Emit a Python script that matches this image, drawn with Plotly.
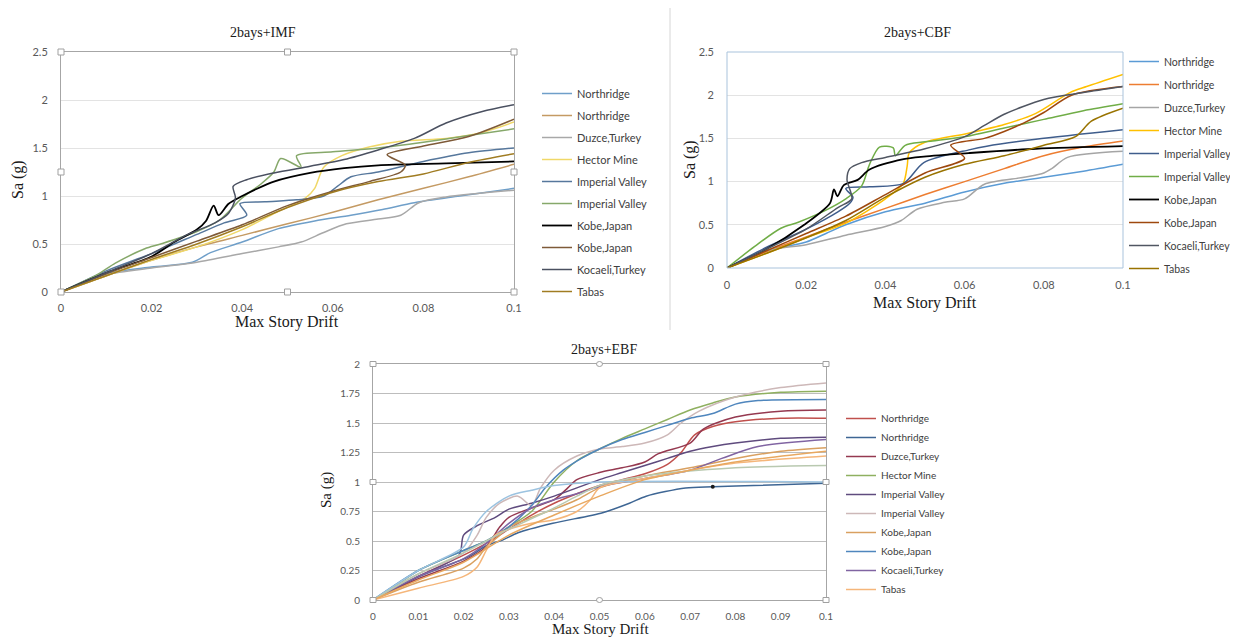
import plotly.graph_objects as go

# page body has an 8px margin, so the figure is placed at (8, 8) in the window
OFF = 8
W, H = 1260, 629

# ---------------- DATA ----------------
names = ["Northridge", "Northridge", "Duzce,Turkey", "Hector Mine", "Imperial Valley",
         "Imperial Valley", "Kobe,Japan", "Kobe,Japan", "Kocaeli,Turkey", "Tabas"]

# 2bays+IMF
imf_x = [
    [0, 0.01, 0.02, 0.029, 0.033, 0.04, 0.048, 0.056, 0.064, 0.071, 0.078, 0.088, 0.1],
    [0, 0.01, 0.02, 0.03, 0.04, 0.05, 0.06, 0.07, 0.08, 0.09, 0.1],
    [0, 0.01, 0.02, 0.03, 0.04, 0.048, 0.053, 0.058, 0.063, 0.07, 0.075, 0.079, 0.085, 0.1],
    [0, 0.01, 0.02, 0.03, 0.04, 0.048, 0.054, 0.056, 0.058, 0.062, 0.068, 0.075, 0.085, 0.092, 0.1],
    [0, 0.01, 0.02, 0.03, 0.036, 0.041, 0.0395, 0.045, 0.052, 0.058, 0.061, 0.064, 0.07, 0.08, 0.09, 0.1],
    [0, 0.008, 0.012, 0.0185, 0.022, 0.03, 0.035, 0.04, 0.044, 0.047, 0.0485, 0.053, 0.052, 0.06, 0.07, 0.08, 0.09, 0.1],
    [0, 0.01, 0.02, 0.025, 0.03, 0.032, 0.0337, 0.0348, 0.037, 0.04, 0.043, 0.047, 0.055, 0.0625, 0.07, 0.085, 0.1],
    [0, 0.01, 0.02, 0.03, 0.04, 0.05, 0.06, 0.068, 0.075, 0.076, 0.072, 0.08, 0.09, 0.1],
    [0, 0.01, 0.02, 0.028, 0.034, 0.037, 0.0385, 0.038, 0.041, 0.047, 0.055, 0.0625, 0.07, 0.078, 0.085, 0.093, 0.1],
    [0, 0.01, 0.02, 0.03, 0.04, 0.05, 0.06, 0.07, 0.08, 0.09, 0.1],
]
imf_y = [
    [0, 0.19, 0.26, 0.31, 0.41, 0.52, 0.66, 0.74, 0.80, 0.86, 0.93, 1.0, 1.08],
    [0, 0.17, 0.33, 0.47, 0.59, 0.71, 0.83, 0.96, 1.08, 1.2, 1.33],
    [0, 0.18, 0.25, 0.31, 0.4, 0.47, 0.52, 0.62, 0.71, 0.76, 0.8, 0.93, 0.99, 1.06],
    [0, 0.17, 0.33, 0.47, 0.65, 0.84, 0.98, 1.08, 1.3, 1.42, 1.51, 1.57, 1.6, 1.65, 1.77],
    [0, 0.22, 0.4, 0.6, 0.72, 0.8, 0.92, 0.94, 0.96, 1.0, 1.1, 1.2, 1.25, 1.36, 1.45, 1.5],
    [0, 0.18, 0.3, 0.45, 0.5, 0.63, 0.75, 0.98, 1.12, 1.25, 1.39, 1.3, 1.42, 1.46, 1.5, 1.56, 1.63, 1.7],
    [0, 0.2, 0.37, 0.52, 0.65, 0.74, 0.9, 0.8, 0.92, 1.0, 1.07, 1.15, 1.24, 1.29, 1.32, 1.34, 1.36],
    [0, 0.19, 0.36, 0.53, 0.7, 0.9, 1.05, 1.15, 1.25, 1.32, 1.43, 1.52, 1.62, 1.8],
    [0, 0.2, 0.4, 0.6, 0.72, 0.82, 0.98, 1.1, 1.17, 1.24, 1.31, 1.38, 1.48, 1.6, 1.76, 1.88, 1.95],
    [0, 0.17, 0.34, 0.5, 0.68, 0.88, 1.04, 1.15, 1.23, 1.35, 1.44],
]

# 2bays+CBF
cbf_x = [
    [0, 0.01, 0.02, 0.025, 0.03, 0.04, 0.05, 0.06, 0.07, 0.08, 0.09, 0.1],
    [0, 0.01, 0.02, 0.03, 0.04, 0.05, 0.06, 0.07, 0.08, 0.09, 0.1],
    [0, 0.01, 0.02, 0.03, 0.04, 0.044, 0.048, 0.055, 0.06, 0.065, 0.075, 0.08, 0.082, 0.086, 0.1],
    [0, 0.01, 0.02, 0.03, 0.04, 0.0445, 0.0455, 0.046, 0.0497, 0.061, 0.07, 0.078, 0.0866, 0.0908, 0.1],
    [0, 0.01, 0.02, 0.028, 0.031, 0.0318, 0.030, 0.036, 0.0446, 0.0497, 0.0614, 0.0656, 0.078, 0.1],
    [0, 0.007, 0.0136, 0.018, 0.025, 0.03, 0.034, 0.036, 0.0385, 0.042, 0.0425, 0.045, 0.05, 0.06, 0.07, 0.08, 0.09, 0.1],
    [0, 0.01, 0.0195, 0.026, 0.027, 0.0279, 0.0295, 0.033, 0.036, 0.0446, 0.0497, 0.061, 0.078, 0.1],
    [0, 0.01, 0.02, 0.03, 0.04, 0.05, 0.06, 0.0565, 0.065, 0.07, 0.075, 0.08, 0.087, 0.1],
    [0, 0.01, 0.02, 0.028, 0.0315, 0.0303, 0.031, 0.034, 0.04, 0.05, 0.06, 0.065, 0.07, 0.08, 0.09, 0.1],
    [0, 0.01, 0.02, 0.03, 0.04, 0.05, 0.06, 0.07, 0.08, 0.088, 0.092, 0.1],
]
cbf_y = [
    [0, 0.2, 0.3, 0.4, 0.5, 0.65, 0.75, 0.88, 0.98, 1.05, 1.12, 1.2],
    [0, 0.19, 0.36, 0.53, 0.69, 0.85, 1.0, 1.15, 1.3, 1.4, 1.47],
    [0, 0.2, 0.27, 0.38, 0.48, 0.55, 0.68, 0.76, 0.8, 0.97, 1.05, 1.1, 1.15, 1.28, 1.35],
    [0, 0.17, 0.35, 0.52, 0.8, 0.98, 1.18, 1.33, 1.45, 1.56, 1.66, 1.79, 2.03, 2.1, 2.24],
    [0, 0.24, 0.45, 0.65, 0.75, 0.82, 0.92, 0.94, 0.98, 1.22, 1.37, 1.41, 1.49, 1.6],
    [0, 0.25, 0.46, 0.53, 0.67, 0.8, 0.95, 1.2, 1.4, 1.39, 1.3, 1.42, 1.46, 1.52, 1.62, 1.72, 1.82, 1.9],
    [0, 0.22, 0.5, 0.75, 0.91, 0.83, 0.96, 1.02, 1.14, 1.26, 1.29, 1.33, 1.38, 1.41],
    [0, 0.2, 0.4, 0.6, 0.85, 1.1, 1.27, 1.42, 1.5, 1.58, 1.68, 1.8, 2.0, 2.1],
    [0, 0.22, 0.45, 0.7, 0.8, 1.02, 1.15, 1.22, 1.28, 1.38, 1.52, 1.65, 1.78, 1.95, 2.03, 2.1],
    [0, 0.17, 0.35, 0.55, 0.82, 1.05, 1.2, 1.3, 1.42, 1.52, 1.7, 1.85],
]

# 2bays+EBF
ebf_x = [
    [0, 0.01, 0.02, 0.025, 0.03, 0.035, 0.04, 0.045, 0.05, 0.055, 0.06, 0.065, 0.068, 0.071, 0.075, 0.08, 0.09, 0.1],
    [0, 0.0103, 0.0213, 0.025, 0.0287, 0.032, 0.0397, 0.0507, 0.0566, 0.0603, 0.069, 0.075, 0.084, 0.1],
    [0, 0.01, 0.02, 0.025, 0.028, 0.03, 0.035, 0.04, 0.043, 0.045, 0.05, 0.055, 0.06, 0.063, 0.07, 0.073, 0.08, 0.09, 0.1],
    [0, 0.005, 0.01, 0.02, 0.025, 0.03, 0.035, 0.04, 0.045, 0.05, 0.055, 0.06, 0.065, 0.07, 0.075, 0.08, 0.09, 0.1],
    [0, 0.01, 0.019, 0.02, 0.023, 0.027, 0.03, 0.035, 0.04, 0.045, 0.05, 0.055, 0.06, 0.065, 0.07, 0.075, 0.08, 0.09, 0.1],
    [0, 0.01, 0.02, 0.023, 0.025, 0.028, 0.032, 0.035, 0.037, 0.04, 0.045, 0.05, 0.055, 0.06, 0.065, 0.068, 0.072, 0.08, 0.09, 0.1],
    [0, 0.01, 0.02, 0.023, 0.025, 0.028, 0.03, 0.035, 0.04, 0.045, 0.05, 0.06, 0.07, 0.08, 0.09, 0.1],
    [0, 0.01, 0.02, 0.025, 0.03, 0.035, 0.038, 0.042, 0.046, 0.05, 0.055, 0.06, 0.065, 0.07, 0.075, 0.08, 0.085, 0.1],
    [0, 0.01, 0.02, 0.025, 0.03, 0.035, 0.04, 0.045, 0.05, 0.06, 0.07, 0.077, 0.085, 0.1],
    [0, 0.01, 0.02, 0.023, 0.025, 0.027, 0.03, 0.035, 0.04, 0.045, 0.048, 0.05, 0.06, 0.07, 0.08, 0.1],
]
ebf_y = [
    [0, 0.2, 0.38, 0.48, 0.6, 0.72, 0.82, 0.9, 0.97, 1.02, 1.07, 1.15, 1.25, 1.4, 1.47, 1.51, 1.54, 1.54],
    [0, 0.2, 0.37, 0.46, 0.51, 0.57, 0.65, 0.74, 0.82, 0.88, 0.95, 0.96, 0.97, 0.99],
    [0, 0.18, 0.33, 0.45, 0.62, 0.7, 0.78, 0.85, 0.95, 1.02, 1.08, 1.12, 1.17, 1.24, 1.33, 1.45, 1.55, 1.6, 1.61],
    [0, 0.12, 0.25, 0.42, 0.5, 0.62, 0.75, 1.0, 1.18, 1.28, 1.37, 1.45, 1.53, 1.61, 1.67, 1.72, 1.76, 1.77],
    [0, 0.2, 0.38, 0.55, 0.63, 0.7, 0.77, 0.82, 0.88, 0.95, 1.02, 1.08, 1.14, 1.2, 1.26, 1.3, 1.33, 1.37, 1.38],
    [0, 0.22, 0.4, 0.55, 0.7, 0.82, 0.88, 0.8, 0.95, 1.1, 1.22, 1.28, 1.3, 1.33, 1.4, 1.5, 1.6, 1.72, 1.8, 1.84],
    [0, 0.15, 0.27, 0.35, 0.45, 0.55, 0.62, 0.7, 0.77, 0.85, 0.95, 1.05, 1.12, 1.2, 1.26, 1.29],
    [0, 0.25, 0.42, 0.5, 0.62, 0.8, 0.95, 1.1, 1.2, 1.28, 1.36, 1.42, 1.48, 1.54, 1.58, 1.66, 1.69, 1.7],
    [0, 0.2, 0.35, 0.48, 0.65, 0.78, 0.85, 0.9, 0.96, 1.03, 1.1, 1.2, 1.3, 1.36],
    [0, 0.1, 0.2, 0.28, 0.42, 0.55, 0.6, 0.65, 0.68, 0.75, 0.85, 0.95, 1.03, 1.1, 1.16, 1.22],
]
# additional EBF records without legend entries
ebf_extra_x = [
    [0, 0.01, 0.02, 0.022, 0.025, 0.03, 0.035, 0.04, 0.05, 0.1],
    [0, 0.01, 0.02, 0.03, 0.04, 0.045, 0.05, 0.06, 0.08, 0.1],
    [0, 0.01, 0.02, 0.03, 0.04, 0.05, 0.06, 0.07, 0.08, 0.1],
]
ebf_extra_y = [
    [0, 0.25, 0.45, 0.6, 0.75, 0.88, 0.93, 0.97, 1.0, 1.0],
    [0, 0.22, 0.4, 0.6, 0.78, 0.88, 0.97, 1.05, 1.12, 1.14],
    [0, 0.17, 0.32, 0.55, 0.72, 0.88, 1.02, 1.1, 1.17, 1.26],
]
ebf_marked_x = 0.075  # highlighted point on second EBF record

imf_colors = ["#6f9fc9", "#c49a63", "#a8a8a8", "#f0d868", "#56779c", "#86a86a",
              "#000000", "#7e5a38", "#4a5060", "#a07c22"]
cbf_colors = ["#5b9bd5", "#ed7d31", "#a5a5a5", "#ffc000", "#3f5d8c", "#70ad47",
              "#000000", "#9e480e", "#505662", "#997300"]
ebf_colors = ["#c0504d", "#3e6694", "#953950", "#8fb060", "#5f4b7e", "#cdb8b8",
              "#d9a060", "#4f86bd", "#8064a2", "#f5b67a"]
ebf_extra_colors = ["#9cc3e0", "#b9c9b0", "#e8a860"]

# ---------------- FIGURE ----------------
fig = go.Figure()

def px(x):
    """window pixel x -> paper"""
    return (x - OFF) / W

def py(y):
    """window pixel y -> paper"""
    return 1 - (y - OFF) / H

def add_set(xs, ys, colors, xa, ya, legend, grp):
    for i, (xv, yv) in enumerate(zip(xs, ys)):
        fig.add_trace(go.Scatter(
            x=xv, y=yv, mode="lines", name=names[i],
            line=dict(color=colors[i], width=1.8 if colors[i] == "#000000" else 1.5,
                      shape="spline", smoothing=0.8),
            xaxis=xa, yaxis=ya, legend=legend, legendgroup=f"{grp}{i}",
        ))

add_set(imf_x, imf_y, imf_colors, "x", "y", "legend", "imf")
add_set(cbf_x, cbf_y, cbf_colors, "x2", "y2", "legend2", "cbf")
add_set(ebf_x, ebf_y, ebf_colors, "x3", "y3", "legend3", "ebf")
for i, (xv, yv) in enumerate(zip(ebf_extra_x, ebf_extra_y)):
    fig.add_trace(go.Scatter(x=xv, y=yv, mode="lines", showlegend=False,
                             line=dict(color=ebf_extra_colors[i], width=1.5, shape="spline", smoothing=0.8),
                             xaxis="x3", yaxis="y3"))
mi = ebf_x[1].index(ebf_marked_x)
fig.add_trace(go.Scatter(x=[ebf_x[1][mi]], y=[ebf_y[1][mi]], mode="markers", showlegend=False,
                         marker=dict(color="#1a1a1a", size=4), xaxis="x3", yaxis="y3"))

serif = "Liberation Serif"

def tf(size):
    return dict(family="Lato", size=size, color="#595959")

def xax(dom, anchor, dtick, line, mirror, standoff, fs):
    return dict(domain=dom, anchor=anchor, range=[0, 0.1], dtick=dtick, tick0=0,
                showgrid=False, zeroline=False, showline=line is not None,
                linecolor=line or "#a6a6a6", mirror=mirror, linewidth=1, automargin=False,
                tickfont=tf(fs), ticks="", ticklabelstandoff=standoff, fixedrange=True)

def yax(dom, anchor, rng, dtick, grid, line, mirror, standoff, fs):
    return dict(domain=dom, anchor=anchor, range=rng, dtick=dtick, tick0=0,
                showgrid=True, gridcolor=grid, gridwidth=1, zeroline=False, automargin=False,
                showline=line is not None, linecolor=line or "#a6a6a6", mirror=mirror, linewidth=1,
                tickfont=tf(fs), ticks="", ticklabelstandoff=standoff, fixedrange=True)

imf_dx = [px(61), px(514)]
imf_dy = [py(292), py(52)]
cbf_dx = [px(727), px(1123)]
cbf_dy = [py(268), py(52)]
ebf_dx = [px(373), px(826)]
ebf_dy = [py(600), py(364)]

legfont = dict(family="Lato", size=11, color="#404040")

fig.update_layout(
    width=W, height=H, margin=dict(l=0, r=0, t=0, b=0, autoexpand=False),
    paper_bgcolor="white", plot_bgcolor="white",
    xaxis=xax(imf_dx, "y", 0.02, "#a6a6a6", True, 6, 11),
    yaxis=yax(imf_dy, "x", [0, 2.5], 0.5, "#e3e3e3", "#a6a6a6", True, 10, 11),
    xaxis2=xax(cbf_dx, "y2", 0.02, None, False, 9, 11),
    yaxis2=yax(cbf_dy, "x2", [0, 2.5], 0.5, "#e3e3e3", None, False, 12, 11),
    xaxis3=xax(ebf_dx, "y3", 0.01, "#a6a6a6", True, 7, 10),
    yaxis3=yax(ebf_dy, "x3", [0, 2], 0.25, "#bdbdbd", "#a6a6a6", True, 10, 10),
    legend=dict(x=px(537), y=py(79), xanchor="left", yanchor="top", font=legfont,
                itemwidth=30, tracegroupgap=3, bgcolor="rgba(0,0,0,0)", traceorder="grouped"),
    legend2=dict(x=px(1124), y=py(47), xanchor="left", yanchor="top",
                 font=dict(family="Lato", size=10.5, color="#404040"),
                 itemwidth=30, tracegroupgap=4, bgcolor="rgba(0,0,0,0)", traceorder="grouped"),
    legend3=dict(x=px(841), y=py(404), xanchor="left", yanchor="top",
                 font=dict(family="Lato", size=10, color="#404040"),
                 itemwidth=30, tracegroupgap=0, bgcolor="rgba(0,0,0,0)", traceorder="grouped"),
    showlegend=True,
)

annos = [
    dict(text="2bays+IMF", x=263, y=33, size=14),
    dict(text="2bays+CBF", x=917, y=33, size=14),
    dict(text="2bays+EBF", x=604, y=349, size=14),
    dict(text="Max Story Drift", x=287, y=322, size=16),
    dict(text="Max Story Drift", x=925, y=303, size=16),
    dict(text="Max Story Drift", x=600, y=629, size=15),
]
for a in annos:
    fig.add_annotation(text=a["text"], x=px(a["x"]), y=py(a["y"]), xref="paper", yref="paper",
                       showarrow=False, font=dict(family=serif, size=a["size"], color="#1a1a1a"),
                       xanchor="center", yanchor="middle")
for (xx, yy, s) in [(18, 180, 16), (690, 160, 16), (327, 490, 15)]:
    fig.add_annotation(text="Sa (g)", x=px(xx), y=py(yy), xref="paper", yref="paper",
                       showarrow=False, textangle=-90, xanchor="center", yanchor="middle",
                       font=dict(family=serif, size=s, color="#1a1a1a"))

shapes = []
shapes.append(dict(type="line", xref="paper", yref="paper", x0=px(670), x1=px(670),
                   y0=1, y1=py(330), line=dict(color="#d6d6d6", width=1)))
shapes.append(dict(type="rect", xref="x2 domain", yref="y2 domain", x0=0, x1=1, y0=0, y1=1,
                   line=dict(color="#a9c3dc", width=1)))
pos = [(0, 0), (0.5, 0), (1, 0), (0, 0.5), (1, 0.5), (0, 1), (0.5, 1), (1, 1)]
for (fx, fy) in pos:
    shapes.append(dict(type="rect", xref="x domain", yref="y domain", xsizemode="pixel",
                       ysizemode="pixel", xanchor=fx, yanchor=fy, x0=-3, x1=3, y0=-3, y1=3,
                       line=dict(color="#a0a0a0", width=1), fillcolor="white"))
    shapes.append(dict(type="circle" if fx == 0.5 else "rect", xref="x3 domain", yref="y3 domain",
                       xsizemode="pixel", ysizemode="pixel", xanchor=fx, yanchor=fy,
                       x0=-3, x1=3, y0=-2.5, y1=2.5,
                       line=dict(color="#a0a0a0", width=1), fillcolor="white"))
fig.update_layout(shapes=shapes)

fig.write_html("out.html")
